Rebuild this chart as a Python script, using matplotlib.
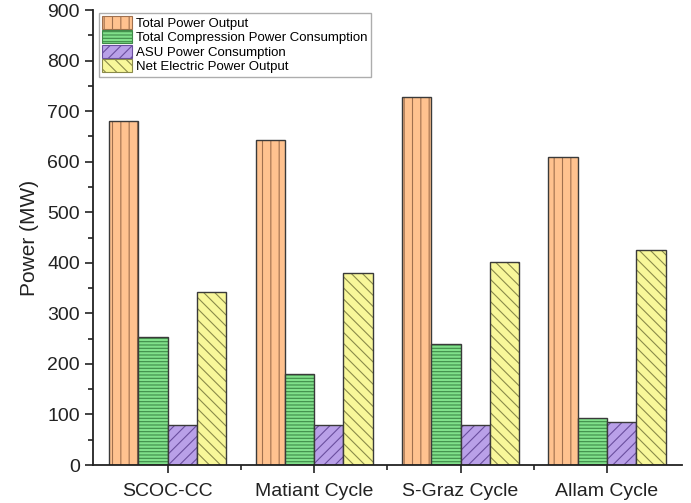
import matplotlib
matplotlib.use("Agg")
import matplotlib.pyplot as plt
import numpy as np
from matplotlib.patches import Patch

plt.rcParams['font.family'] = ['Liberation Sans', 'DejaVu Sans']
plt.rcParams['hatch.linewidth'] = 0.8

categories = ["SCOC-CC", "Matiant Cycle", "S-Graz Cycle", "Allam Cycle"]
series_names = ["Total Power Output", "Total Compression Power Consumption",
                "ASU Power Consumption", "Net Electric Power Output"]
total_power = [680, 642, 728, 609]
compression = [253, 180, 239, 93]
asu = [79, 79, 79, 85]
net_power = [343, 379, 402, 425]
values = [total_power, compression, asu, net_power]

faces = ["#FFC28F", "#80E08A", "#B9A0E8", "#F8F79A"]
hatch_cols = ["#A0704E", "#3F8A48", "#6A4E9E", "#8A8A4A"]
hatches = ["||", "-----", "///", "\\\\\\"]
edge = "#3a3a3a"

fig = plt.figure(figsize=(6.91, 5.03), dpi=100)
ax = fig.add_axes([0.1346, 0.0755, 0.852, 0.9045])

x = np.arange(len(categories))
w = 0.2
handles = []
for i, (vals, fc, hc, h, name) in enumerate(zip(values, faces, hatch_cols, hatches, series_names)):
    pos = x + (i - 1.5) * w
    ax.bar(pos, vals, w, color=fc, edgecolor=hc, hatch=h, linewidth=0)
    ax.bar(pos, vals, w, fill=False, edgecolor=edge, linewidth=1.0)
    handles.append((fc, hc, h, name))

ax.set_xlim(-0.51, 3.51)
ax.set_ylim(0, 900)
ax.set_yticks(np.arange(0, 901, 100))
ax.set_yticks(np.arange(50, 900, 100), minor=True)
ax.set_xticks(x)
ax.set_xticklabels(categories)
ax.set_xticks([0.5, 1.5, 2.5], minor=True)
ax.spines['top'].set_visible(False)
ax.spines['right'].set_visible(False)
for s in ['left', 'bottom']:
    ax.spines[s].set_linewidth(1.3)
    ax.spines[s].set_color('#222222')
ax.tick_params(axis='both', which='major', labelsize=14, length=6, width=1.2, direction='out', colors='#222222')
ax.tick_params(axis='both', which='minor', length=3.5, width=1.2, direction='out', colors='#222222')
ax.tick_params(axis='x', pad=7)
ax.set_ylabel("Power (MW)", fontsize=15, color='#222222', labelpad=6)

leg_handles = [Patch(facecolor=fc, edgecolor=hc, hatch=h, linewidth=0.8, label=name)
               for fc, hc, h, name in handles]
leg = ax.legend(handles=leg_handles, loc='upper left', bbox_to_anchor=(0.005, 1.0),
                fontsize=9.5, frameon=True, fancybox=False, edgecolor='#999999',
                handlelength=2.3, handleheight=1.1, handletextpad=0.3,
                labelspacing=0.05, borderpad=0.25, borderaxespad=0.2)
leg.get_frame().set_linewidth(1.0)

fig.savefig("out.png", dpi=100)
